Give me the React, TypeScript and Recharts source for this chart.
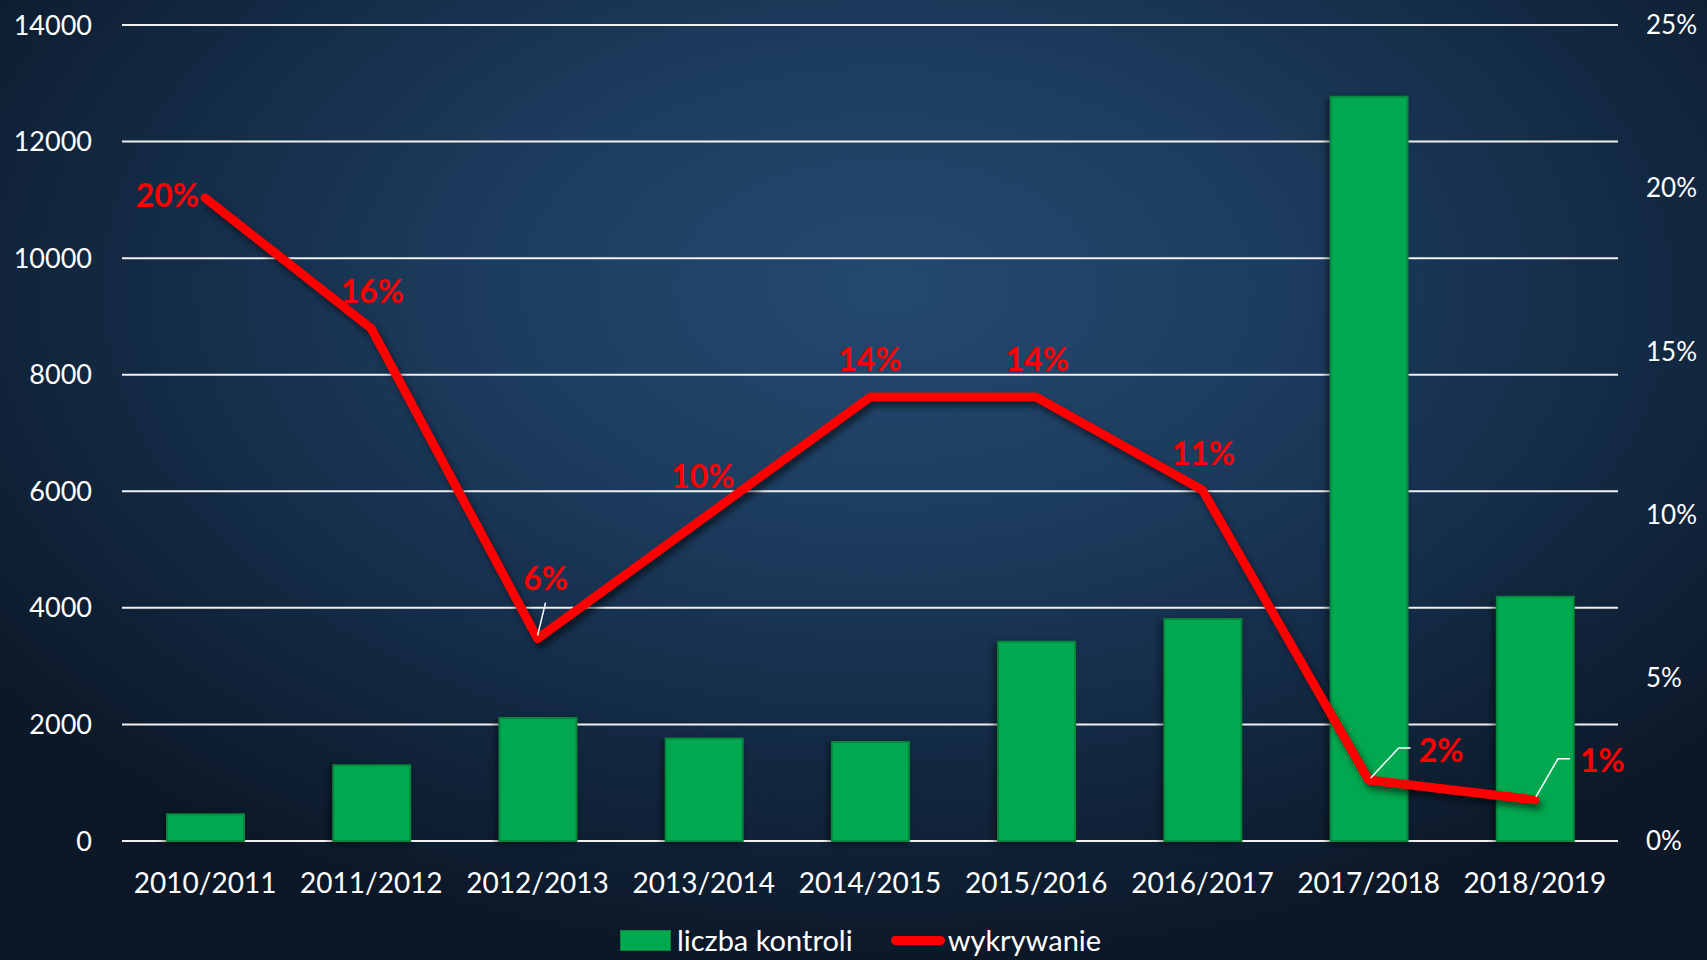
import { Bar, ComposedChart, CartesianGrid, LabelList, Legend, Line, XAxis, YAxis } from "recharts";

const seasons = [
  "2010/2011",
  "2011/2012",
  "2012/2013",
  "2013/2014",
  "2014/2015",
  "2015/2016",
  "2016/2017",
  "2017/2018",
  "2018/2019",
];
const inspections = [460, 1300, 2110, 1760, 1700, 3420, 3810, 12770, 4190];
const detectionRate = [0.197, 0.157, 0.062, 0.099, 0.136, 0.136, 0.1075, 0.0187, 0.0126];
const countTicks = [0, 2000, 4000, 6000, 8000, 10000, 12000, 14000];
const rateTicks = [0, 0.05, 0.1, 0.15, 0.2, 0.25];

const data = seasons.map((season, i) => ({
  season,
  kontrole: inspections[i],
  wykrywanie: detectionRate[i],
}));

const FONT = "Lato, 'Open Sans', sans-serif";
const GREEN = "#00a84f";
const RED = "#ff0000";

// where each percentage label sits relative to its point (label style, not data)
type Spot = { dx: number; dy: number; anchor: "start" | "middle" | "end"; leader?: number[][] };
const labelSpots: Spot[] = [
  { dx: -6, dy: -3, anchor: "end" },
  { dx: 1, dy: -38, anchor: "middle" },
  { dx: 8, dy: -61, anchor: "middle", leader: [[0, -3], [8, -36]] },
  { dx: -1, dy: -42, anchor: "middle" },
  { dx: 0, dy: -39, anchor: "middle" },
  { dx: 1, dy: -39, anchor: "middle" },
  { dx: 1, dy: -38, anchor: "middle" },
  { dx: 50, dy: -30, anchor: "start", leader: [[2, -2], [30, -32], [42, -32]] },
  { dx: 45, dy: -40, anchor: "start", leader: [[1, -3], [23, -41], [35, -41]] },
];

const pct = (v: number) => `${Math.round(v * 100)}%`;

function RateLabel(props: any) {
  const { index, value } = props;
  const x = props.x ?? props.viewBox?.x;
  const y = props.y ?? props.viewBox?.y;
  const spot = labelSpots[index];
  if (!spot || x == null || y == null) return null;
  return (
    <g>
      {spot.leader && (
        <polyline
          points={spot.leader.map(([a, b]) => `${x + a},${y + b}`).join(" ")}
          fill="none"
          stroke="#ffffff"
          strokeWidth={1.5}
        />
      )}
      <text
        x={x + spot.dx}
        y={y + spot.dy}
        textAnchor={spot.anchor}
        dominantBaseline="central"
        fill={RED}
        fontFamily={FONT}
        fontWeight={700}
        fontSize={32}
      >
        {pct(value)}
      </text>
    </g>
  );
}

function LegendRow() {
  return (
    <div
      style={{
        display: "flex",
        justifyContent: "center",
        alignItems: "center",
        height: 32,
        paddingTop: 4,
        paddingLeft: 14,
        fontFamily: FONT,
        fontSize: 29,
        lineHeight: "32px",
        color: "#ffffff",
      }}
    >
      <span
        style={{
          width: 49,
          height: 19,
          background: GREEN,
          border: "1px solid #07873d",
          marginRight: 6,
        }}
      />
      <span style={{ marginRight: 38 }}>liczba kontroli</span>
      <span style={{ width: 54, height: 9, borderRadius: 5, background: RED, marginRight: 3 }} />
      <span>wykrywanie</span>
    </div>
  );
}

export default function App() {
  return (
    <div
      style={{
        position: "absolute",
        left: 0,
        top: 0,
        width: 1707,
        height: 960,
        overflow: "hidden",
        background:
          "radial-gradient(ellipse 65% 70% at 52% 30%, #24496f 0%, #1d3d5f 35%, #142c47 65%, #0c1828 100%)",
      }}
    >
      <ComposedChart
        width={1707}
        height={960}
        data={data}
        margin={{ top: 25, right: 0, bottom: 0, left: 0 }}
        barSize={77}
      >
        <CartesianGrid yAxisId="left" vertical={false} stroke="#f0f0f0" strokeWidth={2} />
        <XAxis
          dataKey="season"
          height={79}
          tickSize={0}
          tickMargin={32}
          axisLine={false}
          tickLine={false}
          tick={{ fill: "#ffffff", fontSize: 28, fontFamily: FONT }}
          interval={0}
        />
        <YAxis
          yAxisId="left"
          width={122}
          domain={[0, 14000]}
          ticks={countTicks}
          tickSize={0}
          tickMargin={30}
          axisLine={false}
          tickLine={false}
          tick={{ fill: "#ffffff", fontSize: 27, fontFamily: FONT }}
        />
        <YAxis
          yAxisId="right"
          orientation="right"
          width={89}
          domain={[0, 0.25]}
          ticks={rateTicks}
          tickFormatter={pct}
          tickSize={0}
          tickMargin={28}
          axisLine={false}
          tickLine={false}
          tick={{ fill: "#ffffff", fontSize: 26, fontFamily: FONT, textAnchor: "start" }}
        />
        <Legend verticalAlign="bottom" height={40} content={() => <LegendRow />} />
        <Bar
          yAxisId="left"
          dataKey="kontrole"
          name="liczba kontroli"
          fill={GREEN}
          stroke="#07873d"
          strokeWidth={2}
          isAnimationActive={false}
          style={{ filter: "drop-shadow(-3px 2px 3px rgba(0,0,0,0.45))" }}
        />
        <Line
          yAxisId="right"
          type="linear"
          dataKey="wykrywanie"
          name="wykrywanie"
          stroke={RED}
          strokeWidth={9}
          strokeLinejoin="round"
          strokeLinecap="round"
          dot={false}
          activeDot={false}
          isAnimationActive={false}
          style={{ filter: "drop-shadow(3px 5px 3px rgba(0,0,0,0.55))" }}
        >
          <LabelList dataKey="wykrywanie" content={(p: any) => <RateLabel {...p} />} />
        </Line>
      </ComposedChart>
    </div>
  );
}
